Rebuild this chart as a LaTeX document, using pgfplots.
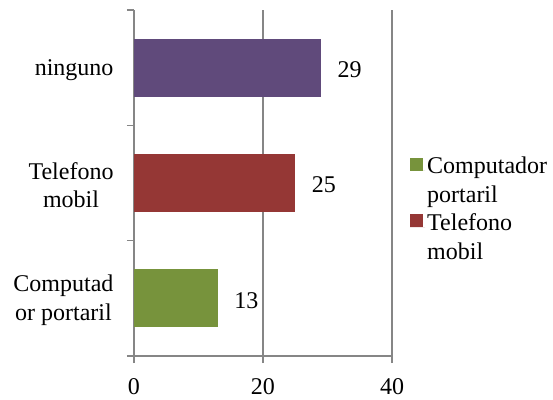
\documentclass[border=0pt]{standalone}
\usepackage{fontspec}
\setmainfont{Liberation Serif}
\usepackage{pgfplots}
\pgfplotsset{compat=1.18}
\definecolor{cpurple}{HTML}{604A7B}
\definecolor{cred}{HTML}{953735}
\definecolor{cgreen}{HTML}{77933C}
\definecolor{cgray}{HTML}{868686}
\newcommand{\bigfont}{\fontsize{24bp}{28.5bp}\selectfont}
\begin{document}
\begin{tikzpicture}
\path[use as bounding box] (-134bp,-44bp) rectangle (419bp,356bp);
\begin{axis}[
  at={(0,0)}, anchor=south west,
  scale only axis, width=258bp, height=346bp,
  xbar, bar shift=0pt, bar width=58bp,
  xmin=0, xmax=40, ymin=-0.5, ymax=2.5,
  axis x line=bottom, axis y line=left,
  axis line style={draw=cgray, line width=1.5bp, -},
  xtick={0,20,40},
  ytick={0,1,2},
  yticklabels={{Computad\\or portaril},{Telefono\\mobil},{ninguno}},
  minor ytick={-0.5,0.5,1.5,2.5},
  tick align=outside,
  major tick length=7bp, minor tick length=7bp,
  major y tick style={draw=none},
  minor y tick style={draw=cgray, line width=1.5bp},
  major x tick style={draw=cgray, line width=1.5bp},
  xmajorgrids,
  major x grid style={draw=cgray, line width=1.5bp},
  /pgf/number format/assume math mode=true,
  ticklabel style={font=\bigfont},
  yticklabel style={align=center, xshift=-10bp, yshift=-2bp},
  xticklabel style={yshift=-12bp},
  nodes near coords,
  every node near coord/.append style={font=\bigfont, xshift=13bp, yshift=-2bp, text=black},
  legend style={at={(1,0.425)}, anchor=west, xshift=15bp, draw=none, fill=none,
    font=\bigfont, cells={align=left, anchor=west}, row sep=6bp},
  legend image code/.code={\fill[#1] (0bp,10bp) rectangle (13bp,23bp); \path (0bp,10bp) -- (15bp,10bp);},
]
\addplot[fill=cgreen, draw=none] coordinates {(13,0)};
\addlegendentry{Computador\\portaril}
\addplot[fill=cred, draw=none] coordinates {(25,1)};
\addlegendentry{Telefono\\mobil}
\addplot[fill=cpurple, draw=none] coordinates {(29,2)};
\end{axis}
\end{tikzpicture}
\end{document}
